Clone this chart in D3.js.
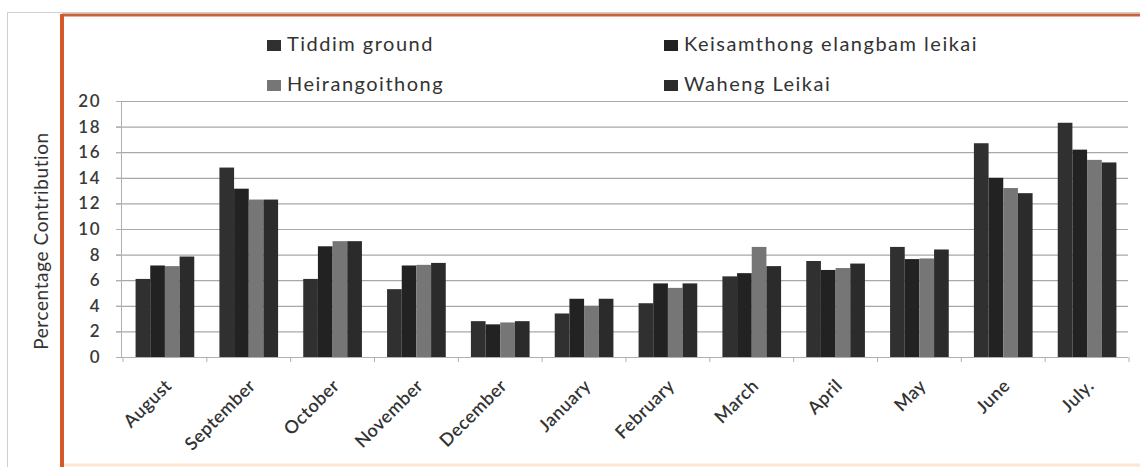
<!DOCTYPE html>
<html><head><meta charset="utf-8">
<script src="https://cdn.jsdelivr.net/npm/d3@7"></script>
<style>body{margin:0;background:#fff}svg{display:block}</style>
</head><body>
<svg id="c" width="1140" height="467"></svg>
<script>
const months = ["August","September","October","November","December","January","February","March","April","May","June","July."];
const seriesNames = ["Tiddim ground","Keisamthong elangbam leikai","Heirangoithong","Waheng Leikai"];
const tiddim      = [6.1,14.8,6.1,5.3,2.8,3.4,4.2,6.3,7.5,8.6,16.7,18.3];
const keisamthong = [7.15,13.15,8.65,7.15,2.55,4.55,5.75,6.55,6.8,7.65,14.0,16.2];
const heirangoithong = [7.1,12.3,9.05,7.2,2.7,4.0,5.4,8.6,6.95,7.7,13.2,15.4];
const waheng      = [7.85,12.3,9.05,7.35,2.8,4.55,5.75,7.1,7.3,8.4,12.8,15.2];
const yTicks = [0,2,4,6,8,10,12,14,16,18,20];
const colors = ["#303030","#222222","#767676","#2b2b2b"];
const data = [tiddim, keisamthong, heirangoithong, waheng];

const svg = d3.select("#c");
const font = "Lato, 'Open Sans', sans-serif";

// frame
svg.append("rect").attr("x",7.5).attr("y",12.5).attr("width",1140).attr("height",460).attr("fill","none").attr("stroke","#cfcfcf");
svg.append("rect").attr("x",62).attr("y",14).attr("width",1080).attr("height",450).attr("fill","#fff");
svg.append("line").attr("x1",62).attr("x2",1140).attr("y1",15).attr("y2",15).attr("stroke","#c8643c").attr("stroke-width",3);
svg.append("line").attr("x1",62).attr("x2",62).attr("y1",14).attr("y2",467).attr("stroke","#d2592c").attr("stroke-width",4);
svg.append("line").attr("x1",64).attr("x2",1140).attr("y1",465).attr("y2",465).attr("stroke","#fbe6d6").attr("stroke-width",3);

const x = d3.scaleBand().domain(months).range([123,1129]).paddingInner(0.3).paddingOuter(0.15);
const y = d3.scaleLinear().domain([0,20]).range([357,101]);
const xs = d3.scaleBand().domain(d3.range(4)).range([0,x.bandwidth()]);

// gridlines
svg.append("g").selectAll("line").data(yTicks.filter(d=>d>0)).join("line")
  .attr("x1",116).attr("x2",1128).attr("y1",d=>y(d)+0.5).attr("y2",d=>y(d)+0.5)
  .attr("stroke","#a8a8a8").attr("stroke-width",1.2);

// y axis
const ya = svg.append("g").attr("transform","translate(121,0)").call(d3.axisLeft(y).tickValues(yTicks).tickSize(5).tickPadding(15));
ya.select(".domain").attr("stroke","#b0b0b0");
ya.selectAll(".tick line").attr("stroke","#b0b0b0");
ya.selectAll("text").attr("font-family",font).attr("font-size",17).attr("font-weight",600).attr("letter-spacing",1.5).attr("fill","#3a3a3a");

// bars
months.forEach((m,i)=>{
  data.forEach((s,k)=>{
    svg.append("rect").attr("x",x(m)+xs(k)).attr("y",y(s[i])).attr("width",xs.bandwidth()).attr("height",y(0)-y(s[i])).attr("fill",colors[k]);
  });
});

// x axis
const xa = svg.append("g").attr("transform","translate(0,357)");
xa.append("line").attr("x1",121).attr("x2",1128).attr("y1",0.5).attr("y2",0.5).attr("stroke","#b0b0b0");
const step = x.step();
const x0 = x(months[0]) - x.step()*x.paddingOuter();
xa.selectAll("line.t").data(d3.range(13)).join("line").attr("class","t")
  .attr("x1",d=>x0+d*step).attr("x2",d=>x0+d*step).attr("y1",0).attr("y2",5).attr("stroke","#b0b0b0");
xa.selectAll("text").data(months).join("text")
  .attr("transform",d=>`translate(${x(d)+x.bandwidth()/2-1},${21}) rotate(-45)`)
  .attr("text-anchor","end").attr("dy","0.7em")
  .attr("font-family",font).attr("font-size",18).attr("font-weight",600).attr("letter-spacing",0.5).attr("fill","#333").text(d=>d);

// y title
svg.append("text").attr("transform","translate(48,241) rotate(-90)").attr("text-anchor","middle")
  .attr("font-family",font).attr("font-size",19).attr("letter-spacing",0.6).attr("fill","#333").text("Percentage Contribution");

// legend
const legItems = [{k:0,x:267,y:51},{k:1,x:664,y:51},{k:2,x:267,y:91},{k:3,x:664,y:91}];
const lg = svg.append("g");
lg.selectAll("rect").data(legItems).join("rect").attr("x",d=>d.x).attr("y",d=>d.y-11).attr("width",14).attr("height",11).attr("fill",d=>colors[d.k]);
lg.selectAll("text").data(legItems).join("text").attr("x",d=>d.x+20).attr("y",d=>d.y)
  .attr("font-family",font).attr("font-size",20).attr("letter-spacing",1.5).attr("fill","#333").text(d=>seriesNames[d.k]);
</script>
</body></html>
